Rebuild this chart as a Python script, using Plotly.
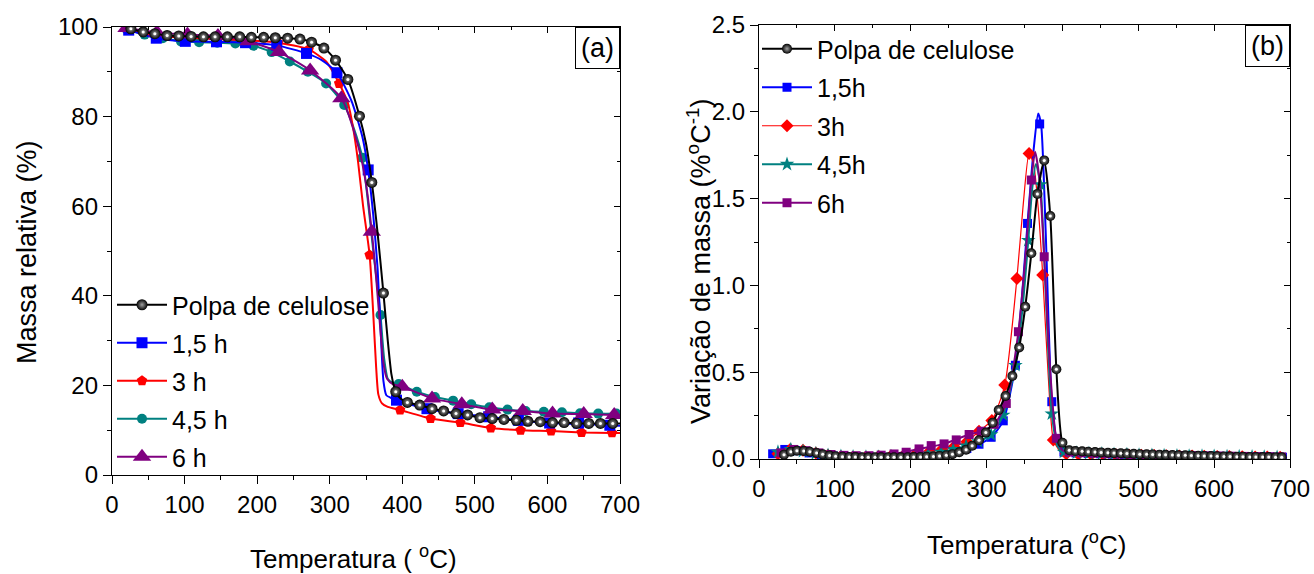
import plotly.graph_objects as go

# ---------------- Panel (a): TGA ----------------
T_a_polpa = [26,43,59,76,92,109,126,142,159,176,192,209,225,242,259,275,292,308,325,341,358,374,391,407,424,441,457,474,490,507,524,540,557,573,590,607,623,640,657,673,690]
m_a_polpa = [99.6,98.9,98.5,98.1,98.0,97.9,97.8,97.8,97.8,97.8,97.7,97.7,97.6,97.5,97.3,96.6,95.3,92.6,88.3,80.1,65.3,40.6,18.6,16.2,15.6,14.8,14.3,13.7,13.4,12.8,12.6,12.4,12.2,12.0,11.9,11.7,11.7,11.5,11.5,11.5,11.5]
T_a_polpa_line = [20,26,43,59,76,92,109,126,142,159,176,192,209,225,242,259,275,292,308,325,341,350,358,366,374,380,385,389,391,398,407,424,441,457,474,490,507,524,540,557,573,590,607,623,640,657,673,690,700]
m_a_polpa_line = [99.9,99.6,98.9,98.5,98.1,98.0,97.9,97.8,97.8,97.8,97.8,97.7,97.7,97.6,97.5,97.3,96.6,95.3,92.6,88.3,80.1,74,65.3,54,40.6,30,22.5,19.5,18.6,17.0,16.2,15.6,14.8,14.3,13.7,13.4,12.8,12.6,12.4,12.2,12.0,11.9,11.7,11.7,11.5,11.5,11.5,11.5,11.5]

T_a_15 = [23,61,101,144,184,227,268,310,353,392,434,477,519,560,603,643,686]
m_a_15 = [99.3,97.5,96.8,96.7,96.5,95.9,94.1,89.8,68.1,16.7,14.8,13.7,13.0,12.2,11.6,11.6,11.1]
T_a_15_line = [20,23,61,101,144,184,227,268,290,310,330,345,353,360,366,370,374,378,386,392,410,434,477,519,560,603,643,686,700]
m_a_15_line = [99.5,99.3,97.5,96.8,96.7,96.5,95.9,94.1,92.5,89.8,83.5,75.5,68.1,58,46,33,21,17.8,17.1,16.7,15.8,14.8,13.7,13.0,12.2,11.6,11.4,11.1,11.0]

T_a_3 = [21,63,104,146,188,229,271,313,355,397,439,480,522,563,605,647,689]
m_a_3 = [99.5,98.0,97.6,97.3,97.0,96.5,95.0,87.4,49.1,14.5,12.6,11.7,10.5,10.0,9.8,9.5,9.4]
T_a_3_line = [20,21,63,104,146,188,229,271,295,313,325,332,339,346,355,360,364,367,372,380,397,439,480,522,563,605,647,689,700]
m_a_3_line = [99.6,99.5,98.0,97.6,97.3,97.0,96.5,95.0,92.3,87.4,83,77.7,70,60,49.1,36,24,18,16,15.2,14.5,12.6,11.7,10.5,10.0,9.8,9.5,9.4,9.4]

T_a_45 = [20,45,70,95,120,145,170,195,220,245,270,295,320,345,370,395,420,445,470,495,520,545,570,595,620,645,670,695]
m_a_45 = [99.5,98.3,97.5,96.8,96.6,96.5,96.3,95.8,94.4,92.3,90.0,87.4,82.6,70.8,35.7,20.3,18.6,17.4,16.6,15.8,15.1,14.6,14.3,14.1,14.0,13.8,13.7,13.7]
T_a_45_line = [20,45,70,95,120,145,170,195,220,245,270,295,320,333,345,352,360,365,370,375,380,386,395,420,445,470,495,520,545,570,595,620,645,670,700]
m_a_45_line = [99.5,98.3,97.5,96.8,96.6,96.5,96.3,95.8,94.4,92.3,90.0,87.4,82.6,77.5,70.8,62,50,43,35.7,26,21.5,20.6,20.3,18.6,17.4,16.6,15.8,15.1,14.6,14.3,14.1,14.0,13.8,13.7,13.7]

T_a_6 = [20,62,104,146,188,230,273,316,358,400,441,482,524,566,607,650,692]
m_a_6 = [99.8,98.8,98.3,98.0,96.8,94.4,90.3,84.1,54.3,19.7,17.1,15.8,14.6,14.3,13.7,13.6,13.4]
T_a_6_line = [20,62,104,146,188,230,273,316,340,350,358,364,369,374,379,388,400,441,482,524,566,607,650,692,700]
m_a_6_line = [99.8,98.8,98.3,98.0,96.8,94.4,90.3,84.1,73,65,54.3,44,34,25,21.5,20.2,19.7,17.1,15.8,14.6,14.3,13.7,13.6,13.4,13.4]

# ---------------- Panel (b): DTG ----------------
T_b_polpa = [33,42,50,59,67,76,84,93,101,110,119,127,136,144,153,161,170,178,187,196,204,213,221,230,238,247,255,264,273,281,290,299,308,316,325,334,343,351,359,367,376,384,392,400,409,417,426,434,443,451,460,468,477,485,494,502,511,519,528,536,545,553,562,570,579,587,596,604,613,621,630,638,647,655,664,672,681,689]
d_b_polpa = [0.025,0.042,0.048,0.046,0.042,0.035,0.027,0.020,0.016,0.013,0.012,0.011,0.010,0.010,0.010,0.010,0.010,0.010,0.010,0.010,0.011,0.012,0.013,0.015,0.018,0.022,0.028,0.039,0.054,0.076,0.108,0.152,0.209,0.282,0.363,0.478,0.643,0.877,1.185,1.527,1.72,1.40,0.517,0.094,0.050,0.046,0.044,0.042,0.040,0.038,0.036,0.034,0.033,0.031,0.030,0.028,0.027,0.026,0.025,0.024,0.023,0.022,0.021,0.020,0.019,0.018,0.017,0.016,0.015,0.014,0.013,0.013,0.012,0.012,0.011,0.011,0.010,0.010]

T_b_15 = [18,34,50,66,82,98,114,130,146,162,178,194,210,226,242,258,274,290,306,322,338,354,370,386,402,418,434,450,466,482,498,514,530,546,562,578,594,610,626,642,658,674,690]
d_b_15 = [0.03,0.055,0.048,0.035,0.024,0.017,0.013,0.011,0.010,0.011,0.013,0.016,0.020,0.026,0.034,0.045,0.06,0.085,0.125,0.22,0.54,1.357,1.93,0.33,0.04,0.035,0.032,0.03,0.028,0.026,0.024,0.022,0.02,0.019,0.018,0.017,0.016,0.015,0.014,0.013,0.012,0.011,0.01]
T_b_15_line = [18,34,50,66,82,98,130,162,194,226,258,290,306,322,338,346,354,362,368,372,378,386,394,402,434,482,530,578,626,690]
d_b_15_line = [0.03,0.055,0.048,0.035,0.024,0.017,0.011,0.011,0.016,0.026,0.045,0.085,0.125,0.22,0.54,0.9,1.357,1.78,1.99,1.92,1.3,0.33,0.08,0.04,0.032,0.026,0.02,0.017,0.014,0.01]

T_b_3 = [25,41,58,75,91,108,124,141,158,174,191,207,224,241,257,274,290,307,324,340,356,374,388,405,421,438,454,471,488,504,521,537,554,571,587,604,620,637,654,670,687]
d_b_3 = [0.03,0.055,0.05,0.035,0.022,0.015,0.012,0.012,0.014,0.018,0.022,0.03,0.04,0.055,0.07,0.10,0.16,0.222,0.426,1.04,1.76,1.06,0.11,0.03,0.028,0.026,0.025,0.023,0.022,0.021,0.02,0.019,0.018,0.017,0.016,0.015,0.014,0.013,0.012,0.011,0.01]
T_b_3_line = [25,41,58,75,91,108,141,174,207,241,274,290,307,324,340,348,356,362,368,374,381,388,396,405,438,488,537,587,637,687]
d_b_3_line = [0.03,0.055,0.05,0.035,0.022,0.015,0.012,0.018,0.03,0.055,0.10,0.16,0.222,0.426,1.04,1.45,1.76,1.7,1.45,1.06,0.5,0.11,0.05,0.03,0.026,0.022,0.019,0.016,0.013,0.01]

T_b_45 = [25,42,58,75,91,108,124,141,157,174,190,207,223,240,256,273,289,306,322,338,355,371,386,402,419,435,452,468,485,501,518,534,551,567,584,600,617,633,650,666,683]
d_b_45 = [0.04,0.055,0.045,0.032,0.022,0.016,0.013,0.012,0.012,0.014,0.018,0.023,0.03,0.04,0.055,0.075,0.1,0.14,0.253,0.54,1.26,1.58,0.26,0.04,0.035,0.032,0.03,0.028,0.026,0.024,0.022,0.02,0.019,0.018,0.017,0.016,0.015,0.014,0.013,0.012,0.011]
T_b_45_line = [25,42,58,75,91,108,141,174,207,240,273,289,306,322,338,347,355,360,365,371,378,386,394,402,435,485,534,584,633,683]
d_b_45_line = [0.04,0.055,0.045,0.032,0.022,0.016,0.012,0.014,0.023,0.04,0.075,0.1,0.14,0.253,0.54,0.85,1.26,1.55,1.70,1.58,0.95,0.26,0.07,0.04,0.032,0.026,0.022,0.018,0.014,0.011]

T_b_6 = [29,46,62,79,95,112,128,145,161,178,194,211,227,244,260,277,293,310,326,342,359,376,392,409,425,442,458,475,491,508,524,541,557,574,590,607,623,640,656,673,689]
d_b_6 = [0.035,0.055,0.048,0.035,0.026,0.021,0.019,0.019,0.022,0.029,0.039,0.058,0.077,0.087,0.11,0.141,0.16,0.2,0.32,0.733,1.607,1.165,0.119,0.04,0.036,0.033,0.03,0.028,0.026,0.024,0.022,0.021,0.02,0.019,0.018,0.017,0.016,0.015,0.014,0.013,0.012]
T_b_6_line = [29,46,62,79,95,112,145,178,211,244,277,293,310,326,342,351,359,364,370,376,384,392,400,409,442,491,541,590,640,689]
d_b_6_line = [0.035,0.055,0.048,0.035,0.026,0.021,0.019,0.029,0.058,0.087,0.141,0.16,0.2,0.32,0.733,1.15,1.607,1.77,1.6,1.165,0.5,0.119,0.05,0.04,0.033,0.026,0.021,0.018,0.015,0.012]

names_a = ["Polpa de celulose", "1,5 h", "3 h", "4,5 h", "6 h"]
names_b = ["Polpa de celulose", "1,5h", "3h", "4,5h", "6h"]

FONT = "Liberation Sans, Arial, sans-serif"
BLACK, BLUE, RED, TEAL, PURPLE = "#000000", "#0000FF", "#FF0000", "#008080", "#800080"
sphere = dict(type="radial", color="#a0a0a0")

fig = go.Figure()

def add_series(xl, yl, xm, ym, color, symbol, msize, lw, xa, ya, legend, name, rank, gradient=None):
    grp = legend + name
    fig.add_trace(go.Scatter(x=xl, y=yl, mode="lines", line=dict(color=color, width=lw, shape="spline", smoothing=0.6),
                             xaxis=xa, yaxis=ya, showlegend=False, legendgroup=grp, hoverinfo="skip"))
    mk = dict(color=color, symbol=symbol, size=msize, line=dict(width=0))
    if gradient:
        mk["gradient"] = gradient
    fig.add_trace(go.Scatter(x=xm, y=ym, mode="markers", marker=mk, xaxis=xa, yaxis=ya,
                             showlegend=False, legendgroup=grp))
    if gradient:
        # small specular highlight of the sphere markers
        fig.add_trace(go.Scatter(x=xm, y=ym, mode="markers", marker=dict(color="white", size=3, line=dict(width=0)),
                                 xaxis=xa, yaxis=ya, showlegend=False, legendgroup=grp, hoverinfo="skip"))
    fig.add_trace(go.Scatter(x=[None], y=[None], mode="lines+markers", name=name, marker=dict(mk),
                             line=dict(color=color, width=lw), xaxis=xa, yaxis=ya, legend=legend,
                             legendgroup=grp, legendrank=rank, showlegend=True))

# Panel (a)
add_series(T_a_45_line, m_a_45_line, T_a_45, m_a_45, TEAL, "circle", 10, 2, "x", "y", "legend", names_a[3], 4)
add_series(T_a_3_line, m_a_3_line, T_a_3, m_a_3, RED, "pentagon", 11, 2, "x", "y", "legend", names_a[2], 3)
add_series(T_a_15_line, m_a_15_line, T_a_15, m_a_15, BLUE, "square", 11, 2, "x", "y", "legend", names_a[1], 2)
add_series(T_a_6_line, m_a_6_line, T_a_6, m_a_6, PURPLE, "triangle-up", 16, 2, "x", "y", "legend", names_a[4], 5)
add_series(T_a_polpa_line, m_a_polpa_line, T_a_polpa, m_a_polpa, BLACK, "circle", 11, 2, "x", "y", "legend", names_a[0], 1, gradient=sphere)

# Panel (b)
add_series(T_b_15_line, d_b_15_line, T_b_15, d_b_15, BLUE, "square", 9, 2, "x2", "y2", "legend2", names_b[1], 2)
add_series(T_b_3_line, d_b_3_line, T_b_3, d_b_3, RED, "diamond", 10, 1.2, "x2", "y2", "legend2", names_b[2], 3)
add_series(T_b_45_line, d_b_45_line, T_b_45, d_b_45, TEAL, "star", 11, 2, "x2", "y2", "legend2", names_b[3], 4)
add_series(T_b_6_line, d_b_6_line, T_b_6, d_b_6, PURPLE, "square", 9, 2, "x2", "y2", "legend2", names_b[4], 5)
add_series(T_b_polpa, d_b_polpa, T_b_polpa, d_b_polpa, BLACK, "circle", 10, 2, "x2", "y2", "legend2", names_b[0], 1, gradient=sphere)

# empty traces that carry the inward-ticked top/right frame axes
for xa, ya in (("x3", "y3"), ("x4", "y4")):
    fig.add_trace(go.Scatter(x=[None], y=[None], mode="markers", xaxis=xa, yaxis=ya,
                             showlegend=False, hoverinfo="skip"))

W, H = 1314, 574
def fx(px): return px / W
def fy(py): return 1 - py / H

axis_common = dict(showline=True, linecolor="black", linewidth=1.3, mirror=True, showgrid=False, zeroline=False,
                   ticks="outside", ticklen=8, tickwidth=1.3, tickcolor="black", automargin=False,
                   tickfont=dict(family=FONT, size=24, color="black"))
frame_common = dict(showline=False, showgrid=False, zeroline=False, showticklabels=False,
                    ticks="inside", ticklen=6, tickwidth=1.2, tickcolor="black", automargin=False)

fig.update_layout(
    width=W, height=H, margin=dict(l=0, r=0, t=0, b=0, autoexpand=False),
    paper_bgcolor="white", plot_bgcolor="white",
    font=dict(family=FONT, color="black"),
    xaxis=dict(domain=[fx(112), fx(620)], range=[0, 700], dtick=100, tick0=0, anchor="y",
               minor=dict(dtick=50, ticks="outside", ticklen=4, tickcolor="black"), **axis_common),
    yaxis=dict(domain=[fy(475), fy(27)], range=[0, 100], dtick=20, tick0=0, anchor="x",
               minor=dict(dtick=10, ticks="outside", ticklen=4, tickcolor="black"), **axis_common),
    xaxis2=dict(domain=[fx(759), fx(1290)], range=[0, 700], dtick=100, tick0=0, anchor="y2",
                minor=dict(dtick=50, ticks="outside", ticklen=4, tickcolor="black"), **axis_common),
    yaxis2=dict(domain=[fy(459), fy(25)], range=[0, 2.5], dtick=0.5, tick0=0, tickformat=".1f", anchor="x2",
                minor=dict(dtick=0.25, ticks="outside", ticklen=4, tickcolor="black"), **axis_common),
    xaxis3=dict(overlaying="x", matches="x", side="top", anchor="y3", range=[0, 700], dtick=100, tick0=0,
                minor=dict(dtick=50, ticks="inside", ticklen=3, tickcolor="black"), **frame_common),
    yaxis3=dict(overlaying="y", matches="y", side="right", anchor="x3", range=[0, 100], dtick=20, tick0=0,
                minor=dict(dtick=10, ticks="inside", ticklen=3, tickcolor="black"), **frame_common),
    xaxis4=dict(overlaying="x2", matches="x2", side="top", anchor="y4", range=[0, 700], dtick=100, tick0=0,
                minor=dict(dtick=50, ticks="inside", ticklen=3, tickcolor="black"), **frame_common),
    yaxis4=dict(overlaying="y2", matches="y2", side="right", anchor="x4", range=[0, 2.5], dtick=0.5, tick0=0,
                minor=dict(dtick=0.25, ticks="inside", ticklen=3, tickcolor="black"), **frame_common),
    legend=dict(x=fx(112), y=fy(282), xanchor="left", yanchor="top", bgcolor="rgba(0,0,0,0)",
                font=dict(family=FONT, size=25, color="black"), tracegroupgap=2.5, itemwidth=50),
    legend2=dict(x=fx(757), y=fy(26), xanchor="left", yanchor="top", bgcolor="rgba(0,0,0,0)",
                 font=dict(family=FONT, size=25, color="black"), tracegroupgap=3, itemwidth=50),
    annotations=[
        dict(text="Massa relativa (%)", x=fx(27), y=fy(252), xref="paper", yref="paper", textangle=-90,
             showarrow=False, xanchor="center", yanchor="middle", font=dict(family=FONT, size=27)),
        dict(text="Temperatura ( <sup>o</sup>C)", x=fx(353), y=fy(557), xref="paper", yref="paper",
             showarrow=False, xanchor="center", yanchor="middle", font=dict(family=FONT, size=26)),
        dict(text="Variação de massa (%<sup>o</sup>C<sup>-1</sup>)", x=fx(699), y=fy(262), xref="paper", yref="paper",
             textangle=-90, showarrow=False, xanchor="center", yanchor="middle", font=dict(family=FONT, size=27)),
        dict(text="Temperatura (<sup>o</sup>C)", x=fx(1026), y=fy(543), xref="paper", yref="paper",
             showarrow=False, xanchor="center", yanchor="middle", font=dict(family=FONT, size=26)),
        dict(text="(a)", x=fx(620), y=fy(27), xref="paper", yref="paper", showarrow=False,
             xanchor="right", yanchor="top", font=dict(family=FONT, size=27), bordercolor="black",
             borderwidth=1, borderpad=5, bgcolor="white"),
        dict(text="(b)", x=fx(1290), y=fy(25), xref="paper", yref="paper", showarrow=False,
             xanchor="right", yanchor="top", font=dict(family=FONT, size=27), bordercolor="black",
             borderwidth=1, borderpad=5, bgcolor="white"),
    ],
)

fig.write_html("out.html")
